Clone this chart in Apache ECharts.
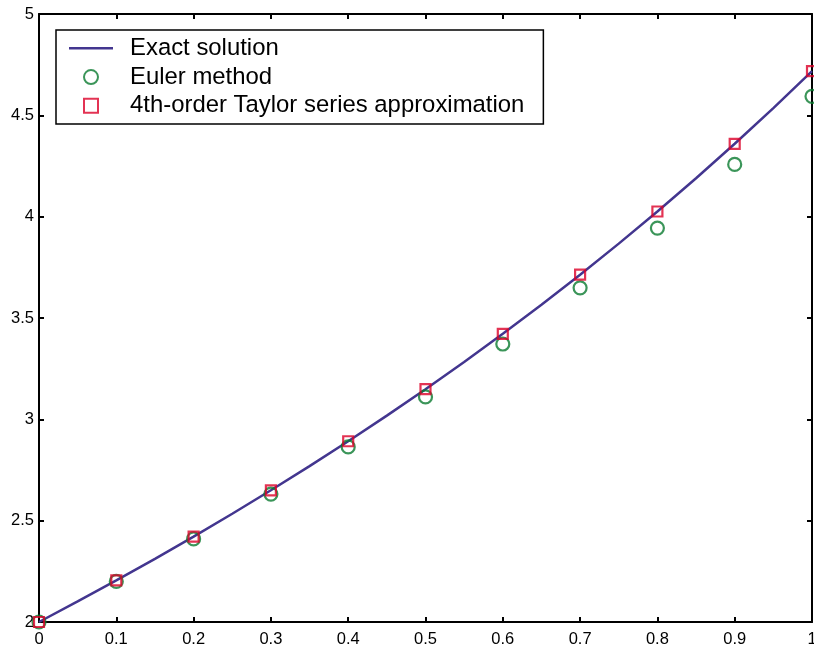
<!DOCTYPE html>
<html>
<head>
<meta charset="utf-8">
<script src="https://cdn.jsdelivr.net/npm/echarts@6/dist/echarts.min.js"></script>
<style>
  html, body { margin: 0; padding: 0; background: #fff; }
  #chart { width: 814px; height: 646px; }
</style>
</head>
<body>
<div id="chart"></div>
<script>
// Exact solution sampled every 0.05
const exactX = [0, 0.05, 0.1, 0.15, 0.2, 0.25, 0.3, 0.35, 0.4, 0.45, 0.5,
                0.55, 0.6, 0.65, 0.7, 0.75, 0.8, 0.85, 0.9, 0.95, 1.0];
const exactY = [2.0, 2.1013, 2.2052, 2.3118, 2.4214, 2.5340, 2.6499, 2.7691, 2.8918, 3.0183, 3.1487,
                3.2833, 3.4221, 3.5655, 3.7138, 3.8670, 4.0255, 4.1897, 4.3596, 4.5357, 4.7183];

// Step points (h = 0.1)
const stepX = [0, 0.1, 0.2, 0.3, 0.4, 0.5, 0.6, 0.7, 0.8, 0.9, 1.0];
const eulerY = [2.0, 2.2, 2.41, 2.631, 2.8641, 3.1105, 3.3716, 3.6487, 3.9436, 4.2579, 4.5937];
const taylorY = [2.0, 2.2052, 2.4214, 2.6499, 2.8918, 3.1487, 3.4221, 3.7138, 4.0255, 4.3596, 4.7183];

const seriesNames = ['Exact solution', 'Euler method', '4th-order Taylor series approximation'];

const lineColor = '#43368f';
const eulerColor = '#0a7a30';
const taylorColor = '#dc0028';

const pair = (xs, ys) => xs.map((x, i) => [x, ys[i]]);

const axisFont = { color: '#000', fontFamily: 'Liberation Sans, Arial, sans-serif', fontSize: 16.5 };
const frameLine = { show: true, onZero: false, lineStyle: { color: '#000', width: 2 } };
const inTick = { show: true, inside: true, length: 5, lineStyle: { color: '#000', width: 2 } };

const chart = echarts.init(document.getElementById('chart'));
chart.setOption({
  animation: false,
  backgroundColor: '#fff',
  grid: { left: 39, right: 2, top: 14, bottom: 24, containLabel: false, outerBoundsMode: 'none' },
  xAxis: [
    { type: 'value', min: 0, max: 1, interval: 0.1, position: 'bottom',
      axisLine: frameLine, axisTick: inTick, splitLine: { show: false },
      axisLabel: Object.assign({ margin: 9 }, axisFont) },
    { type: 'value', min: 0, max: 1, interval: 0.1, position: 'top',
      axisLine: frameLine, axisTick: inTick, splitLine: { show: false },
      axisLabel: { show: false } }
  ],
  yAxis: [
    { type: 'value', min: 2, max: 5, interval: 0.5, position: 'left',
      axisLine: frameLine, axisTick: inTick, splitLine: { show: false },
      axisLabel: Object.assign({ margin: 5 }, axisFont) },
    { type: 'value', min: 2, max: 5, interval: 0.5, position: 'right',
      axisLine: frameLine, axisTick: inTick, splitLine: { show: false },
      axisLabel: { show: false } }
  ],
  legend: {
    orient: 'vertical',
    left: 56, top: 30,
    padding: [6, 19, 6, 13],
    itemWidth: 44, itemHeight: 14, itemGap: 4.3,
    backgroundColor: '#fff',
    borderColor: '#000', borderWidth: 1.5, borderRadius: 0,
    textStyle: { color: '#000', fontFamily: 'Liberation Sans, Arial, sans-serif', fontSize: 23.9,
                 lineHeight: 24.5, padding: [0, 0, 0, 12] },
    data: [
      { name: seriesNames[0], icon: 'path://M0,0H44V2.4H0Z' },
      { name: seriesNames[1], icon: 'circle' },
      { name: seriesNames[2], icon: 'path://M0,0H11V11H0Z' }
    ]
  },
  series: [
    { name: seriesNames[0], type: 'line', data: pair(exactX, exactY),
      showSymbol: false, symbol: 'none', smooth: false,
      lineStyle: { color: lineColor, width: 2.5 }, itemStyle: { color: lineColor }, z: 2 },
    { name: seriesNames[1], type: 'scatter', data: pair(stepX, eulerY),
      symbol: 'circle', symbolSize: 13,
      itemStyle: { color: 'rgba(255,255,255,0)', borderColor: eulerColor, borderWidth: 2.2 }, z: 3 },
    { name: seriesNames[2], type: 'scatter', data: pair(stepX, taylorY),
      symbol: 'rect', symbolSize: 10,
      itemStyle: { color: 'rgba(255,255,255,0)', borderColor: taylorColor, borderWidth: 2.2 }, z: 4 }
  ]
});
</script>
</body>
</html>
